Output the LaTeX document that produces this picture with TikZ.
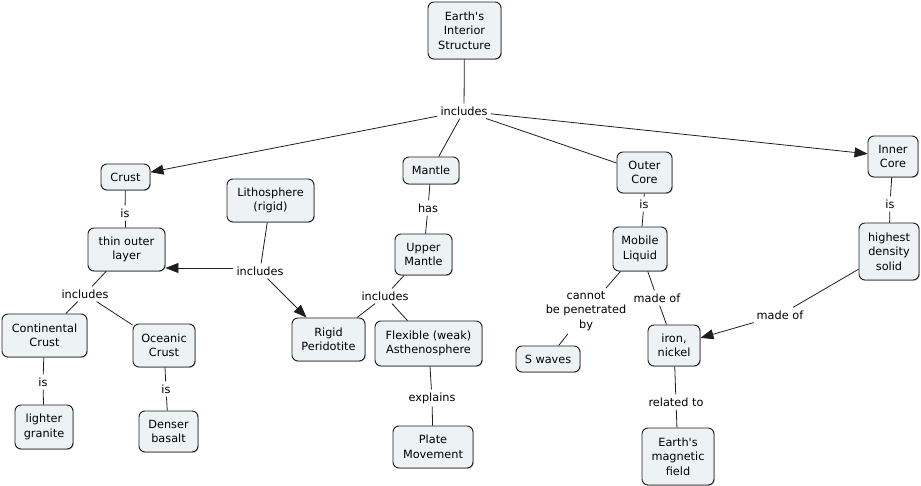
\documentclass[tikz,border=0pt]{standalone}
\usepackage{fontspec}
\setmainfont{DejaVu Sans}[Ligatures=TeXOff]
\usetikzlibrary{arrows.meta,shadows}
\definecolor{cfill}{RGB}{237,243,245}
\definecolor{cline}{RGB}{30,30,30}
\begin{document}
\begin{tikzpicture}[x=1pt,y=-1pt,
  txt/.style={font=\fontsize{11.3}{14.5}\selectfont},
  concept/.style={txt, draw=cline, fill=cfill, rounded corners=6pt, line width=0.9pt,
    align=center, inner sep=1pt,
    drop shadow={shadow xshift=0.8pt,shadow yshift=-0.8pt,fill=black!50,opacity=0.5}},
  link/.style={txt, align=center, inner sep=3pt},
  conn/.style={draw=cline, line width=0.8pt},
  arr/.style={conn, -{Triangle[length=13pt,width=10pt]}}]
\useasboundingbox (0,0) rectangle (921,486);
% concepts
\node[concept, minimum width=73pt, minimum height=57pt] (top) at (464.5,30.5) {Earth's\\Interior\\Structure};
\node[concept, minimum width=49pt, minimum height=26pt] (crust) at (125.5,177) {Crust};
\node[concept, minimum width=87pt, minimum height=43pt] (litho) at (270.5,200.5) {Lithosphere\\(rigid)};
\node[concept, minimum width=56pt, minimum height=27pt] (mantle) at (431,170.5) {Mantle};
\node[concept, minimum width=55pt, minimum height=41pt] (outer) at (644.5,172.5) {Outer\\Core};
\node[concept, minimum width=50pt, minimum height=41pt] (inner) at (893,156.5) {Inner\\Core};
\node[concept, minimum width=77pt, minimum height=43pt] (thin) at (126.5,249.5) {thin outer\\layer};
\node[concept, minimum width=57pt, minimum height=41pt] (upper) at (423.5,254.5) {Upper\\Mantle};
\node[concept, minimum width=54pt, minimum height=44pt] (mobile) at (640,249) {Mobile\\Liquid};
\node[concept, minimum width=60pt, minimum height=57pt] (highest) at (889,251.5) {highest\\density\\solid};
\node[concept, minimum width=85pt, minimum height=43pt] (cont) at (44.5,335.5) {Continental\\Crust};
\node[concept, minimum width=62pt, minimum height=43pt] (ocean) at (164,345.5) {Oceanic\\Crust};
\node[concept, minimum width=73pt, minimum height=43pt] (rigid) at (328.5,339.5) {Rigid\\Peridotite};
\node[concept, minimum width=107pt, minimum height=45pt] (flex) at (428.5,343.5) {Flexible (weak)\\Asthenosphere};
\node[concept, minimum width=64pt, minimum height=26pt] (swaves) at (548,359) {S waves};
\node[concept, minimum width=52pt, minimum height=41pt] (iron) at (674,345.5) {iron,\\nickel};
\node[concept, minimum width=58pt, minimum height=44pt] (granite) at (44,427) {lighter\\granite};
\node[concept, minimum width=59pt, minimum height=41pt] (basalt) at (168.5,431.5) {Denser\\basalt};
\node[concept, minimum width=80pt, minimum height=42pt] (plate) at (433,447) {Plate\\Movement};
\node[concept, minimum width=72pt, minimum height=57pt] (field) at (678,456.5) {Earth's\\magnetic\\field};
% linking phrases
\node[link] (l1) at (464,111) {includes};
\node[link] (l2) at (125,213) {is};
\node[link] (l3) at (260,271) {includes};
\node[link] (l4) at (428,208) {has};
\node[link] (l5) at (644,204) {is};
\node[link] (l6) at (890,204) {is};
\node[link] (l7) at (85,294) {includes};
\node[link] (l8) at (385,296) {includes};
\node[link] (l9) at (586,311) {cannot\\be penetrated\\by};
\node[link] (l10) at (657,298) {made of};
\node[link] (l11) at (780,315) {made of};
\node[link] (l12) at (43,382) {is};
\node[link] (l13) at (166,389) {is};
\node[link] (l14) at (432,398) {explains};
\node[link] (l15) at (676,402) {related to};
% connectors
\draw[conn] (top) -- (l1);
\draw[arr] (l1) -- (crust);
\draw[conn] (l1) -- (mantle);
\draw[conn] (l1) -- (outer);
\draw[arr] (l1) -- (inner);
\draw[conn] (crust) -- (l2);
\draw[conn] (l2) -- (thin);
\draw[conn] (litho) -- (l3);
\draw[arr] ([yshift=3pt]l3.west) -- ([yshift=3pt]l3.west -| thin.east);
\draw[arr] (l3) -- (rigid);
\draw[conn] (mantle) -- (l4);
\draw[conn] (l4) -- (upper);
\draw[conn] (outer) -- (l5);
\draw[conn] (l5) -- (mobile);
\draw[conn] (inner) -- (l6);
\draw[conn] (l6) -- (highest);
\draw[conn] (thin) -- (l7);
\draw[conn] (l7) -- (cont);
\draw[conn] (l7) -- (ocean);
\draw[conn] (upper) -- (l8);
\draw[conn] (l8) -- (rigid);
\draw[conn] (l8) -- (flex);
\draw[conn] (mobile) -- (l9);
\draw[conn] (l9) -- (swaves);
\draw[conn] (mobile) -- (l10);
\draw[conn] (l10) -- (iron);
\draw[conn] (highest) -- (l11);
\draw[arr] (l11) -- (iron);
\draw[conn] (cont) -- (l12);
\draw[conn] (l12) -- (granite);
\draw[conn] (ocean) -- (l13);
\draw[conn] (l13) -- (basalt);
\draw[conn] (flex) -- (l14);
\draw[conn] (l14) -- (plate);
\draw[conn] (iron) -- (l15);
\draw[conn] (l15) -- (field);
\end{tikzpicture}
\end{document}
